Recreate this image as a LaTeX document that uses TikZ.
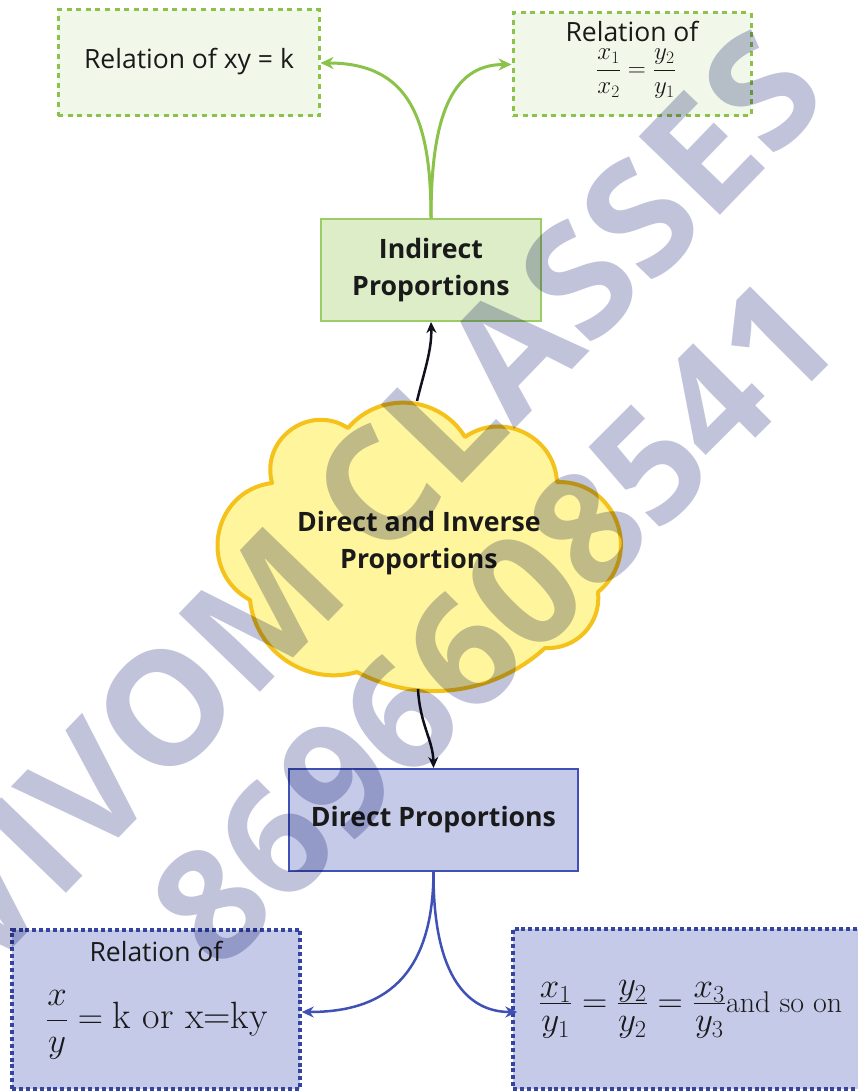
\RequirePackage{fix-cm}
\documentclass[tikz,border=0pt]{standalone}
\usepackage[no-math]{fontspec}
\setmainfont{Open Sans}
\newfontfamily\lmr{Latin Modern Roman}
\usetikzlibrary{arrows.meta}
\definecolor{gline}{HTML}{8BC34A}
\definecolor{gpale}{HTML}{F1F8E9}
\definecolor{gfill}{HTML}{DCEDC8}
\definecolor{gdraw}{HTML}{9CCC65}
\definecolor{bfill}{HTML}{C5CAE9}
\definecolor{bdraw}{HTML}{3F51B5}
\definecolor{bdot}{HTML}{35449F}
\definecolor{cfill}{HTML}{FFF59D}
\definecolor{cdraw}{HTML}{F5C11B}
\definecolor{wmcol}{HTML}{C0C3DA}
\definecolor{ink}{HTML}{1A1A1A}
\definecolor{arrowink}{HTML}{10101E}
\newcommand{\lmtext}[2]{\hbox{\fontsize{#1}{#1}\lmr #2}}
\newcommand{\dfr}[2]{{\displaystyle\frac{#1}{#2}}}
\newcommand{\bfr}[2]{{\textstyle\frac{\displaystyle #1}{\vrule height 0.8em depth 0pt width 0pt\displaystyle #2}}}
\begin{document}
\begin{tikzpicture}[x=1pt,y=-1pt,
  regular/.style={font=\fontsize{26.5}{30}\selectfont, text=ink, inner sep=0pt},
  heading/.style={font=\fontsize{26.7}{37}\selectfont\bfseries, text=ink, align=center},
  mathtext/.style={text=ink, inner sep=0pt},
  pgreen/.style={draw=gline, line width=3pt, dash pattern=on 5pt off 4.6pt, fill=gpale, inner sep=0pt},
  pblue/.style={draw=bdot, line width=3.5pt, dash pattern=on 4pt off 2.9pt, fill=bfill, inner sep=0pt},
  indbox/.style={heading, draw=gdraw, fill=gfill, line width=2pt, minimum width=220pt, minimum height=102pt, inner sep=0pt},
  dirbox/.style={heading, draw=bdraw, fill=bfill, line width=2pt, minimum width=289pt, minimum height=102pt, inner sep=0pt},
  cloudline/.style={draw=cdraw, fill=cfill, line width=4pt, line join=round},
  garrow/.style={draw=gline, line width=3pt, -{Stealth[length=13pt,width=12pt]}},
  karrow/.style={draw=arrowink, line width=2.5pt, -{Stealth[length=11pt,width=10pt]}},
  barrow/.style={draw=bdraw, line width=2.5pt, -{Stealth[length=12pt,width=11pt]}},
  wmone/.style={text=wmcol, font=\fontsize{158}{158}\selectfont\bfseries, inner sep=0pt},
  wmtwo/.style={text=wmcol, font=\fontsize{155}{155}\selectfont\bfseries, inner sep=0pt}
]
\useasboundingbox (0,0) rectangle (858,1091);
\clip (0,0) rectangle (858,1091);
\fill[white] (0,0) rectangle (858,1091);

% top dotted boxes
\node[pgreen, minimum width=261pt, minimum height=106pt] (relA) at (188.5,63) {};
\node[regular] (relAtext) at (189,62) {Relation of xy = k};
\node[pgreen, minimum width=238pt, minimum height=103pt] (relB) at (632,64.5) {};
\node[regular] (relBtext) at (632,31.5) {Relation of};
\node[mathtext, font=\fontsize{25}{25}\selectfont] (relBmath) at (636,74) {$\dfr{x_1}{x_2}=\dfr{y_2}{y_1}$};

% indirect
\node[indbox] (ind) at (431,270) {Indirect\\Proportions};

% cloud
\draw[cloudline] (348,428)
 to[bend left=54, looseness=1.07] (465,437)
 to[bend left=61, looseness=1.14] (557,482)
 to[bend left=71, looseness=1.29] (598,592)
 to[bend left=50, looseness=1.04] (545,648)
 to[bend left=35, looseness=0.94] (357,672)
 to[bend left=50, looseness=1.04] (250,600)
 to[bend left=72, looseness=1.30] (272,483)
 to[bend left=69, looseness=1.25] (348,428) -- cycle;
\node[heading] (cloudtext) at (419,543.5) {Direct and Inverse\\Proportions};
\coordinate (cloudtop) at (417,401);
\coordinate (cloudbot) at (418,689);

% direct
\node[dirbox] (dir) at (433.5,820) {Direct Proportions};

% bottom dotted boxes
\node[pblue, minimum width=288pt, minimum height=159pt] (relC) at (156,1009.5) {};
\node[regular] (relCtext) at (156,951) {Relation of};
\node[mathtext, font=\fontsize{35}{35}\selectfont] (relCmath) at (157,1025) {$\dfr{x}{y}=\lmtext{38}{k or x=ky}$};
\node[pblue, minimum width=354pt, minimum height=160pt] (relD) at (690,1009) {};
\node[mathtext, font=\fontsize{35}{35}\selectfont, anchor=base] (relDmath) at (690.5,1012) {$\bfr{x_1}{y_1}=\bfr{y_2}{y_2}=\bfr{x_3}{y_3}\lmtext{30}{and so on}$};

% connectors
\draw[garrow] (ind.north) .. controls (431,120) and (410,63) .. (relA.east);
\draw[garrow] (ind.north) .. controls (431,120) and (450,64.5) .. (relB.west);
\draw[karrow] (cloudtop) .. controls (424,372) and (432,350) .. (ind.south);
\draw[karrow] (cloudbot) .. controls (420,725) and (433,740) .. (dir.north);
\draw[barrow] (dir.south) .. controls (433,990) and (370,1012) .. ([yshift=-2.5pt]relC.east);
\draw[barrow] (dir.south) .. controls (433,980) and (470,1012) .. ([yshift=-3pt,xshift=6pt]relD.west);

% watermark
\begin{scope}[blend mode=multiply]
\node[wmone, rotate=46] (wmarkA) at (368,499) {VIVOM CLASSES};
\node[wmtwo, rotate=45] (wmarkB) at (493.5,622) {8696608541};
\end{scope}
\end{tikzpicture}
\end{document}
